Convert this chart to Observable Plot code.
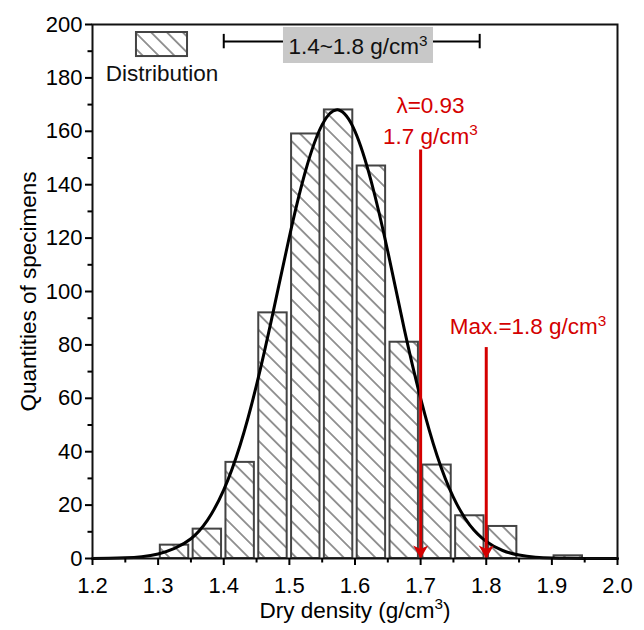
<!DOCTYPE html>
<html>
<head>
<meta charset="utf-8">
<script src="https://cdn.jsdelivr.net/npm/d3@7"></script>
<script src="https://cdn.jsdelivr.net/npm/@observablehq/plot@0.6"></script>
<style>
  html, body { margin: 0; padding: 0; background: #fff; }
  #chart { width: 644px; height: 630px; }
</style>
</head>
<body>
<div id="chart"></div>
<script>
// ---- data ----
const binStart = [1.30, 1.35, 1.40, 1.45, 1.50, 1.55, 1.60, 1.65, 1.70, 1.75, 1.80, 1.85, 1.90];
const counts   = [5, 11, 36, 92, 159, 168, 147, 81, 35, 16, 12, 0, 1];
const binWidth = 0.05;

const curveX = [1.200, 1.225, 1.250, 1.275, 1.300, 1.325, 1.350, 1.375, 1.400, 1.425, 1.450, 1.475,
                1.500, 1.525, 1.550, 1.575, 1.600, 1.625, 1.650, 1.675, 1.700, 1.725, 1.750, 1.775,
                1.800, 1.825, 1.850, 1.875, 1.900, 1.925, 1.950, 1.975, 2.000];
const curveY = [0.03, 0.09, 0.26, 0.69, 1.7, 3.8, 7.4, 14.3, 25.7, 42.5, 65, 92,
                120.5, 145.5, 162.5, 168, 160, 141, 115, 86, 60, 38.6, 22.9, 12.5,
                6.4, 3.0, 1.3, 0.5, 0.17, 0.06, 0.02, 0.01, 0];

const xTicks = [1.2, 1.3, 1.4, 1.5, 1.6, 1.7, 1.8, 1.9, 2.0];
const xMinor = [1.25, 1.35, 1.45, 1.55, 1.65, 1.75, 1.85, 1.95];
const yTicks = [0, 20, 40, 60, 80, 100, 120, 140, 160, 180, 200];
const yMinor = [10, 30, 50, 70, 90, 110, 130, 150, 170, 190];

const arrowX   = [1.7, 1.8];
const arrowTop = [153, 79];

const redLabels  = ["λ=0.93", "1.7 g/cm³", "Max.=1.8 g/cm³"];
const redLabelX  = [1.715, 1.715, 1.8636];
const redLabelY  = [167.0, 155.4, 83.9];

const rangeLabel = "1.4~1.8 g/cm³";
const rangeFrom = 1.4, rangeTo = 1.79, rangeLevel = 193.6;
const legendLabel = "Distribution";
const xTitle = "Dry density (g/cm³)";
const yTitle = "Quantities of specimens";

// ---- tables built from the arrays ----
const bars = binStart.map((s, i) => ({x0: s, x1: s + binWidth, count: counts[i]})).filter(d => d.count > 0);
const curve = curveX.map((x, i) => ({x, y: curveY[i]}));
const arrows = arrowX.map((x, i) => ({x, top: arrowTop[i], base: 0}));
const reds = redLabels.map((t, i) => ({text: t, x: redLabelX[i], y: redLabelY[i]}));

const RED = "#d40000";
const arrowHead = {
  draw(ctx) {
    ctx.moveTo(0, 0);
    ctx.lineTo(-7.5, -13);
    ctx.lineTo(0, -9.5);
    ctx.lineTo(7.5, -13);
    ctx.closePath();
  }
};

const svg = Plot.plot({
  width: 644,
  height: 630,
  marginLeft: 92,
  marginRight: 27,
  marginTop: 24,
  marginBottom: 72,
  style: {fontFamily: "'Liberation Sans', Arial, sans-serif", fontSize: "22px", color: "#000", background: "#fff"},
  x: {domain: [1.2, 2.0], axis: null},
  y: {domain: [0, 200], axis: null},
  marks: [
    // histogram bars
    Plot.rect(bars, {x1: "x0", x2: "x1", y1: 0, y2: "count", fill: "url(#hatch)",
      stroke: "#444", strokeWidth: 2, insetLeft: 2.2, insetRight: 2.2}),
    // fitted curve
    Plot.line(curve, {x: "x", y: "y", stroke: "#000", strokeWidth: 3, curve: "natural"}),
    // red arrows
    Plot.ruleX(arrows, {x: "x", y1: "base", y2: "top", stroke: RED, strokeWidth: 3}),
    Plot.dot(arrows, {x: "x", y: "base", symbol: arrowHead, fill: RED, stroke: "none"}),
    Plot.text(reds, {x: "x", y: "y", text: "text", fill: RED, fontSize: 22.5, lineAnchor: "bottom", textAnchor: "middle"}),
    // range bracket
    Plot.ruleY([rangeLevel], {x1: rangeFrom, x2: rangeTo, stroke: "#000", strokeWidth: 2}),
    Plot.ruleX([rangeFrom, rangeTo], {y1: rangeLevel - 2.7, y2: rangeLevel + 2.7, stroke: "#000", strokeWidth: 2}),
    Plot.rect([rangeLabel], {x1: 1.491, x2: 1.7196, y1: 185.4, y2: 198.9, fill: "#c8c8c8"}),
    Plot.text([rangeLabel], {x: 1.6046, y: 189.1, text: d => d, fontSize: 22.5, fill: "#111", lineAnchor: "bottom"}),
    // legend
    Plot.rect([legendLabel], {x1: 1.267, x2: 1.3448, y1: 188.0, y2: 197.0, fill: "url(#hatch)", stroke: "#444", strokeWidth: 2}),
    Plot.text([legendLabel], {x: 1.3059, y: 179.0, text: d => d, fontSize: 22.5, fill: "#111", lineAnchor: "bottom"}),
    // frame and axes
    Plot.frame({stroke: "#111", strokeWidth: 2}),
    Plot.axisX(xTicks, {tickSize: 7, tickPadding: 12, strokeWidth: 2, tickFormat: d3.format(".1f"), label: null, fontSize: 22}),
    Plot.axisX(xMinor, {tickSize: 4.5, strokeWidth: 2, tickFormat: () => "", label: null}),
    Plot.axisY(yTicks, {tickSize: 7, tickPadding: 3, strokeWidth: 2, tickFormat: d3.format("d"), label: null, fontSize: 22}),
    Plot.axisY(yMinor, {tickSize: 4.5, strokeWidth: 2, tickFormat: () => "", label: null}),
    Plot.text([xTitle], {frameAnchor: "bottom", dy: 59, text: d => d, fontSize: 22.5, lineAnchor: "bottom", textAnchor: "middle"}),
    Plot.text([yTitle], {frameAnchor: "left", dx: -57, rotate: -90, text: d => d, fontSize: 22.5, lineAnchor: "bottom", textAnchor: "middle"})
  ]
});

// hatch pattern definition
const ns = "http://www.w3.org/2000/svg";
const defs = document.createElementNS(ns, "defs");
const pat = document.createElementNS(ns, "pattern");
pat.setAttribute("id", "hatch");
pat.setAttribute("patternUnits", "userSpaceOnUse");
pat.setAttribute("width", "11.2");
pat.setAttribute("height", "11.2");
pat.setAttribute("patternTransform", "rotate(-45)");
const bg = document.createElementNS(ns, "rect");
bg.setAttribute("width", "11.2"); bg.setAttribute("height", "11.2"); bg.setAttribute("fill", "#fff");
const ln = document.createElementNS(ns, "line");
ln.setAttribute("x1", "5.6"); ln.setAttribute("x2", "5.6");
ln.setAttribute("y1", "-1"); ln.setAttribute("y2", "12.2");
ln.setAttribute("stroke", "#6a6a6a"); ln.setAttribute("stroke-width", "1.4");
pat.appendChild(bg); pat.appendChild(ln); defs.appendChild(pat);
svg.insertBefore(defs, svg.firstChild);

document.getElementById("chart").appendChild(svg);

// render "³" as a larger raised superscript "3", like the reference
svg.querySelectorAll("text").forEach(t => {
  if (t.children.length || !t.textContent.includes("³")) return;
  const fs = parseFloat(getComputedStyle(t).fontSize) || 22;
  const parts = t.textContent.split("³");
  t.textContent = "";
  parts.forEach((p, i) => {
    if (i > 0) {
      const sup = document.createElementNS(ns, "tspan");
      sup.setAttribute("font-size", (fs * 0.68).toFixed(1));
      sup.setAttribute("dy", (-fs * 0.36).toFixed(1));
      sup.textContent = "3";
      t.appendChild(sup);
    }
    if (p) {
      const s = document.createElementNS(ns, "tspan");
      if (i > 0) s.setAttribute("dy", (fs * 0.36).toFixed(1));
      s.textContent = p;
      t.appendChild(s);
    }
  });
});
</script>
</body>
</html>
